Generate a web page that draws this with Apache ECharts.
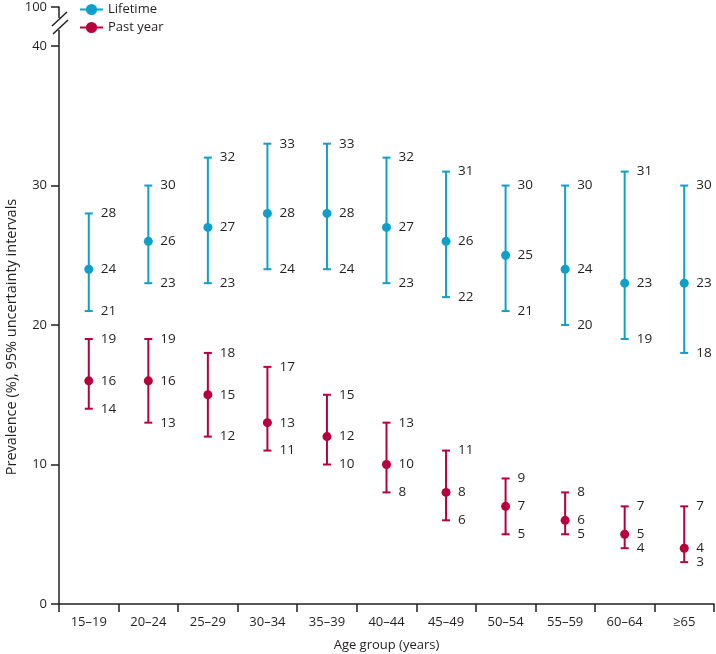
<!DOCTYPE html>
<html>
<head>
<meta charset="utf-8">
<script src="https://cdn.jsdelivr.net/npm/echarts@6/dist/echarts.min.js"></script>
<style>
html,body{margin:0;padding:0;background:#fff;}
#chart{width:716px;height:654px;}
</style>
</head>
<body>
<div id="chart"></div>
<script>
// ---- Data ----
const categories = ['15–19','20–24','25–29','30–34','35–39','40–44','45–49','50–54','55–59','60–64','≥65'];
const lifetimeMean  = [24,26,27,28,28,27,26,25,24,23,23];
const lifetimeLower = [21,23,23,24,24,23,22,21,20,19,18];
const lifetimeUpper = [28,30,32,33,33,32,31,30,30,31,30];
const pastMean  = [16,16,15,13,12,10,8,7,6,5,4];
const pastLower = [14,13,12,11,10,8,6,5,5,4,3];
const pastUpper = [19,19,18,17,15,13,11,9,8,7,7];
const yTickLabels = ['0','10','20','30','40','100'];

const C_LIFE = '#0e9fca';
const C_PAST = '#b8003c';
const TXT = '#231f20';
const FONT = '"Open Sans", sans-serif';
const Y_TOP = 42.8; // position on the broken axis where "100" sits

function errData(lo, mean, hi) {
  return categories.map((c, i) => [i, lo[i], mean[i], hi[i]]);
}

function makeRender(color) {
  return function (params, api) {
    const i = api.value(0);
    const pLo = api.coord([i, api.value(1)]);
    const pM = api.coord([i, api.value(2)]);
    const pHi = api.coord([i, api.value(3)]);
    const cw = 4;
    const ls = { stroke: color, lineWidth: 2 };
    const tx = pM[0] + 12;
    const ts = (y, v) => ({
      type: 'text',
      style: { x: tx, y: y, text: String(Math.round(v)), fill: TXT, font: '13.5px ' + FONT,
               textAlign: 'left', textVerticalAlign: 'middle' }
    });
    return {
      type: 'group',
      children: [
        { type: 'line', shape: { x1: pM[0], y1: pHi[1], x2: pM[0], y2: pLo[1] }, style: ls },
        { type: 'line', shape: { x1: pM[0] - cw, y1: pHi[1], x2: pM[0] + cw, y2: pHi[1] }, style: ls },
        { type: 'line', shape: { x1: pM[0] - cw, y1: pLo[1], x2: pM[0] + cw, y2: pLo[1] }, style: ls },
        ts(pHi[1], api.value(3)),
        ts(pM[1], api.value(2)),
        ts(pLo[1], api.value(1))
      ]
    };
  };
}

const chart = echarts.init(document.getElementById('chart'), null, { renderer: 'canvas' });
const option = {
  animation: false,
  backgroundColor: '#fff',
  textStyle: { fontFamily: FONT, color: TXT },
  grid: { left: 59, right: 2, top: 7, bottom: 50, containLabel: false, outerBoundsMode: 'none' },
  legend: {
    orient: 'vertical', left: 79, top: 3, padding: 0,
    itemWidth: 23, itemHeight: 14, itemGap: 5,
    textStyle: { fontSize: 13, color: TXT, fontFamily: FONT },
    data: ['Lifetime', 'Past year']
  },
  xAxis: {
    type: 'category',
    data: categories,
    boundaryGap: true,
    axisLine: { lineStyle: { color: TXT, width: 1.5 } },
    axisTick: { show: true, length: 8, lineStyle: { color: TXT, width: 1.5 } },
    axisLabel: { color: TXT, fontSize: 13, margin: 12, fontFamily: FONT, interval: 0 },
    name: 'Age group (years)',
    nameLocation: 'middle',
    nameGap: 35,
    nameTextStyle: { color: TXT, fontSize: 13, fontFamily: FONT },
    splitLine: { show: false }
  },
  yAxis: {
    type: 'value',
    min: 0, max: Y_TOP, interval: 10,
    axisLine: { show: true, lineStyle: { color: TXT, width: 1.5 } },
    axisTick: { show: true, length: 8, lineStyle: { color: TXT, width: 1.5 } },
    axisLabel: {
      color: TXT, fontSize: 13, margin: 12, fontFamily: FONT,
      showMaxLabel: true,
      formatter: function (v) {
        if (v > 41) return yTickLabels[5];
        return yTickLabels[Math.round(v / 10)];
      }
    },
    splitLine: { show: false }
  },
  graphic: [
    { type: 'rect', shape: { x: 55, y: 18, width: 8, height: 12 }, style: { fill: '#fff' }, z: 100 },
    { type: 'line', shape: { x1: 52, y1: 26, x2: 67, y2: 12 }, style: { stroke: TXT, lineWidth: 1.5 }, z: 101 },
    { type: 'line', shape: { x1: 53, y1: 34, x2: 68, y2: 20 }, style: { stroke: TXT, lineWidth: 1.5 }, z: 101 },
    { type: 'text', x: 12, y: 337, rotation: Math.PI / 2,
      style: { text: 'Prevalence (%), 95% uncertainty intervals', fill: TXT, font: '14.5px ' + FONT,
               textAlign: 'center', textVerticalAlign: 'middle' }, z: 101 }
  ],
  series: [
    { name: 'Lifetime', type: 'line', data: [], symbol: 'circle', symbolSize: 9,
      itemStyle: { color: C_LIFE }, lineStyle: { color: C_LIFE, width: 2 } },
    { name: 'Past year', type: 'line', data: [], symbol: 'circle', symbolSize: 9,
      itemStyle: { color: C_PAST }, lineStyle: { color: C_PAST, width: 2 } },
    { name: 'lifeErr', type: 'custom', renderItem: makeRender(C_LIFE),
      data: errData(lifetimeLower, lifetimeMean, lifetimeUpper), z: 2 },
    { name: 'pastErr', type: 'custom', renderItem: makeRender(C_PAST),
      data: errData(pastLower, pastMean, pastUpper), z: 2 },
    { name: 'lifePts', type: 'scatter', data: lifetimeMean.map((v, i) => [i, v]),
      symbol: 'circle', symbolSize: 9, itemStyle: { color: C_LIFE, opacity: 1 }, z: 3 },
    { name: 'pastPts', type: 'scatter', data: pastMean.map((v, i) => [i, v]),
      symbol: 'circle', symbolSize: 9, itemStyle: { color: C_PAST, opacity: 1 }, z: 3 }
  ]
};
chart.setOption(option);
</script>
</body>
</html>
